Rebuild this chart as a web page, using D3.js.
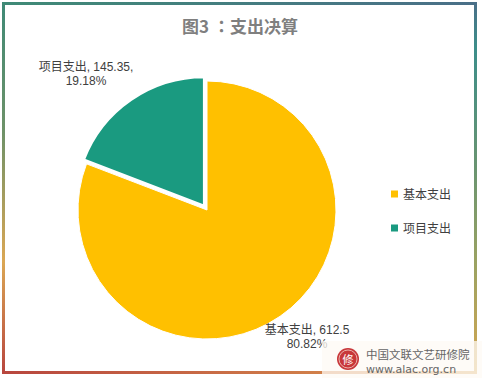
<!DOCTYPE html>
<html><head><meta charset="utf-8">
<script src="https://cdn.jsdelivr.net/npm/d3@7"></script>
<style>html,body{margin:0;padding:0;background:#fff;}svg{display:block;}</style>
</head><body>
<script>
const categories = ["基本支出", "项目支出"];
const values = [612.5, 145.35];
const percents = ["80.82%", "19.18%"];
const colors = ["#FFC000", "#1A9A80"];
const title = "图3 ：支出决算";

const W = 482, H = 378;
const svg = d3.select("body").append("svg").attr("width", W).attr("height", H);
const defs = svg.append("defs");
const font = "'Noto Sans CJK SC', 'Noto Sans', sans-serif";
const labelFont = "'Liberation Sans', 'Noto Sans CJK SC', sans-serif";

function grad(id, x1, y1, x2, y2, stops) {
  const g = defs.append("linearGradient").attr("id", id).attr("gradientUnits", "userSpaceOnUse")
    .attr("x1", x1).attr("y1", y1).attr("x2", x2).attr("y2", y2);
  stops.forEach(s => g.append("stop").attr("offset", s[0]).attr("stop-color", s[1]));
}
svg.append("rect").attr("width", W).attr("height", H).attr("fill", "#fff");

// frame
const L = 3.5, T = 3.5, R = 475.5, B = 372.5;
grad("gTop", L, 0, R, 0, [[0, "#3f8a76"], [0.5, "#447d80"], [1, "#4a6f88"]]);
grad("gLeft", 0, T, 0, B, [[0, "#3f8a76"], [0.35, "#6f9268"], [0.7, "#dba754"], [1, "#b8463e"]]);
grad("gBottom", L, 0, R, 0, [[0, "#b8463e"], [0.7, "#d2824a"], [1, "#d7a558"]]);
grad("gRight", 0, T, 0, B, [[0, "#4a6f88"], [0.12, "#3c8e8a"], [0.45, "#6a9470"], [0.7, "#9aa262"], [1, "#d5a650"]]);
svg.append("line").attr("x1", L - 1.5).attr("x2", R + 1.5).attr("y1", T).attr("y2", T).attr("stroke", "url(#gTop)").attr("stroke-width", 3);
svg.append("line").attr("x1", L).attr("x2", L).attr("y1", T).attr("y2", B).attr("stroke", "url(#gLeft)").attr("stroke-width", 3);
svg.append("line").attr("x1", L - 1.5).attr("x2", R + 1.5).attr("y1", B).attr("y2", B).attr("stroke", "url(#gBottom)").attr("stroke-width", 3);
svg.append("line").attr("x1", R).attr("x2", R).attr("y1", T).attr("y2", B).attr("stroke", "url(#gRight)").attr("stroke-width", 3);

// title
svg.append("text").attr("x", 240).attr("y", 33).attr("text-anchor", "middle")
  .attr("font-family", "'Noto Sans CJK TC', 'Noto Sans CJK SC', sans-serif").attr("font-size", 17).attr("font-weight", "bold")
  .attr("fill", "#7f7f7f").text(title);

// pie
const cx = 207, cy = 210, r = 129;
const pie = d3.pie().sort(null).value(d => d)(values);
const arc = d3.arc().innerRadius(0).outerRadius(r);
const g = svg.append("g").attr("transform", `translate(${cx},${cy})`);
const explode = [0, 5];
g.selectAll("path").data(pie).join("path")
  .attr("d", arc)
  .attr("fill", (d, i) => colors[i])
  .attr("stroke", "#fff").attr("stroke-width", (d, i) => i === 1 ? 2.5 : 1)
  .attr("stroke-linejoin", "miter")
  .attr("transform", (d, i) => {
    const a = (d.startAngle + d.endAngle) / 2;
    return `translate(${Math.sin(a) * explode[i]},${-Math.cos(a) * explode[i]})`;
  });

// data labels
const labelPos = [[307, 334], [86, 71]];
const labelLines = [
  [categories[0] + ", " + values[0], percents[0]],
  [categories[1] + ", " + values[1] + ",", percents[1]]
];
labelLines.forEach((lines, i) => {
  lines.forEach((s, j) => svg.append("text").attr("text-anchor", "middle").attr("font-family", labelFont)
    .attr("font-size", 12).attr("fill", "#404040")
    .attr("x", labelPos[i][0]).attr("y", labelPos[i][1] + j * 14).text(s));
});

// legend
const leg = svg.append("g");
categories.forEach((c, i) => {
  const y = 194 + i * 34;
  leg.append("rect").attr("x", 391).attr("y", y - 3.5).attr("width", 7).attr("height", 7).attr("fill", colors[i]);
  leg.append("text").attr("x", 403).attr("y", y + 4.5).attr("font-family", font).attr("font-size", 12)
    .attr("fill", "#404040").text(c);
});

// watermark
svg.append("rect").attr("x", 322).attr("y", 341).attr("width", 160).attr("height", 37).attr("fill", "#fdfaf4").attr("opacity", 0.75);
svg.append("circle").attr("cx", 348).attr("cy", 359).attr("r", 11).attr("fill", "#c8373a");
svg.append("circle").attr("cx", 348).attr("cy", 359).attr("r", 9).attr("fill", "none").attr("stroke", "#f3d0c8").attr("stroke-width", 0.8);
svg.append("text").attr("x", 348).attr("y", 363.5).attr("text-anchor", "middle").attr("font-family", font)
  .attr("font-size", 11).attr("fill", "#fff").text("修");
svg.append("text").attr("x", 366).attr("y", 359).attr("font-family", font).attr("font-size", 11.5)
  .attr("fill", "#666").text("中国文联文艺研修院");
svg.append("text").attr("x", 366).attr("y", 373).attr("font-family", "'DejaVu Sans', sans-serif").attr("font-size", 11)
  .attr("fill", "#666").text("www.alac.org.cn");
</script>
</body></html>
